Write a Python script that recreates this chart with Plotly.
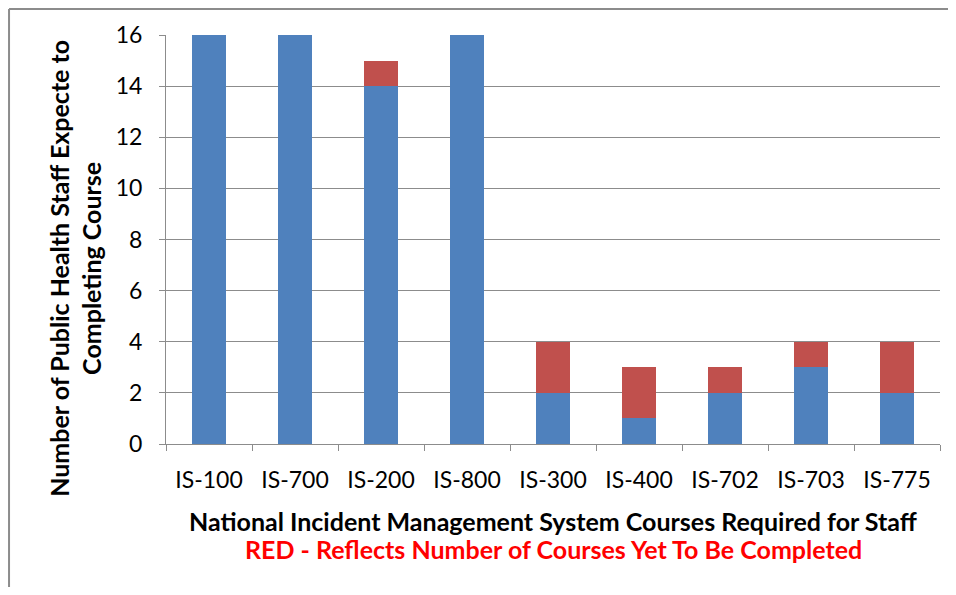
import plotly.graph_objects as go

courses = ['IS-100', 'IS-700', 'IS-200', 'IS-800', 'IS-300', 'IS-400', 'IS-702', 'IS-703', 'IS-775']
completed = [16, 16, 14, 16, 2, 1, 2, 3, 2]
remaining = [0, 0, 1, 0, 2, 2, 1, 1, 2]
y_ticks = [0, 2, 4, 6, 8, 10, 12, 14, 16]

FONT = 'Lato'
GRID = '#8C8C8C'

fig = go.Figure()
fig.add_trace(go.Bar(x=courses, y=completed, name='Completed', marker_color='#4F81BD',
                     marker_line_width=0))
fig.add_trace(go.Bar(x=courses, y=remaining, name='Yet to complete', marker_color='#C0504D',
                     marker_line_width=0))

fig.update_xaxes(
    showline=True, linecolor=GRID, linewidth=1,
    ticks='outside', tickson='boundaries', ticklen=6, tickcolor=GRID,
    ticklabelstandoff=15,
    tickfont={'size': 23, 'color': '#000000', 'family': FONT},
    showgrid=False
)
fig.update_yaxes(
    range=[0, 16], tickvals=y_ticks,
    showline=True, linecolor=GRID, linewidth=1,
    ticks='outside', ticklen=6, tickcolor=GRID,
    ticklabelstandoff=12,
    showgrid=True, gridcolor=GRID, gridwidth=1,
    tickfont={'size': 23, 'color': '#000000', 'family': FONT},
    zeroline=False
)

fig.add_annotation(
    text='<b>National Incident Management System Courses Required for Staff</b>',
    xref='paper', yref='paper', x=0.5, y=-0.188, yanchor='middle', showarrow=False,
    font={'size': 25, 'color': '#000000', 'family': FONT}
)
fig.add_annotation(
    text='<b>RED - Reflects Number of Courses Yet To Be Completed</b>',
    xref='paper', yref='paper', x=0.5, y=-0.257, yanchor='middle', showarrow=False,
    font={'size': 25, 'color': '#FF0000', 'family': FONT}
)
fig.add_annotation(
    text='<b>Number of Public Health Staff Expecte to<br>Completing Course</b>',
    xref='paper', yref='paper', x=-0.118, y=0.43, xanchor='center', yanchor='middle',
    textangle=-90, showarrow=False,
    font={'size': 25, 'color': '#000000', 'family': FONT}
)

# outer chart frame: only left and top edges fall inside the picture
fig.add_shape(type='line', xref='paper', yref='paper',
              x0=-0.2028, x1=-0.2028, y0=-0.5, y1=1.0636,
              line={'color': '#8C8C8C', 'width': 2})
fig.add_shape(type='line', xref='paper', yref='paper',
              x0=-0.2028, x1=1.2, y0=1.0636, y1=1.0636,
              line={'color': '#8C8C8C', 'width': 2})

fig.update_layout(
    barmode='stack', bargap=0.6,
    width=940, height=579,
    plot_bgcolor='white', paper_bgcolor='white',
    showlegend=False,
    margin={'l': 158, 'r': 8, 't': 27, 'b': 143}
)

fig.write_html('out.html')
